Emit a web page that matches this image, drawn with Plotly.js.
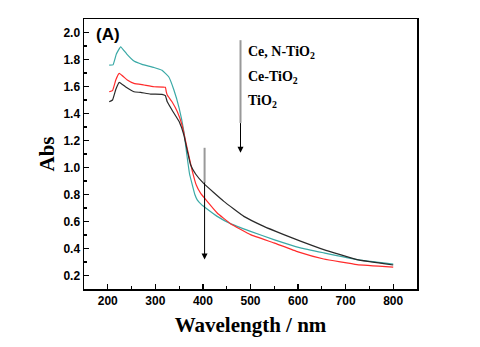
<!DOCTYPE html>
<html>
<head>
<meta charset="utf-8">
<script src="https://cdn.plot.ly/plotly-3.0.1.min.js"></script>
<style>
  html, body { margin: 0; padding: 0; background: #fff; }
  #plot { width: 480px; height: 347px; }
</style>
</head>
<body>
<div id="plot"></div>
<script>
// Absorbance
var wlCeN = [203, 211, 218, 227, 240, 255, 272, 297, 314, 328, 339, 350, 360, 366, 372, 377, 383, 388, 397, 406, 430, 458, 500, 549, 605, 654, 724, 800];
var absCeN = [1.758, 1.76, 1.84, 1.894, 1.84, 1.788, 1.764, 1.741, 1.72, 1.672, 1.574, 1.44, 1.266, 1.10, 0.95, 0.88, 0.80, 0.76, 0.725, 0.70, 0.638, 0.584, 0.527, 0.466, 0.405, 0.368, 0.318, 0.285];

var wlCe = [203, 210, 217, 224, 241, 255, 276, 297, 321, 323, 325, 335, 346, 356, 367, 377, 386, 395, 409, 430, 458, 500, 549, 600, 654, 724, 800];
var absCe = [1.561, 1.57, 1.65, 1.697, 1.648, 1.623, 1.611, 1.598, 1.594, 1.56, 1.537, 1.487, 1.414, 1.315, 1.14, 0.983, 0.87, 0.81, 0.749, 0.663, 0.584, 0.503, 0.442, 0.375, 0.322, 0.281, 0.262];

var wlTi = [203, 210, 217, 224, 237, 255, 269, 290, 314, 321, 325, 335, 350, 360, 368, 374, 385, 402, 444, 486, 528, 570, 605, 654, 724, 800];
var absTi = [1.487, 1.50, 1.58, 1.631, 1.598, 1.561, 1.556, 1.544, 1.542, 1.532, 1.487, 1.426, 1.34, 1.24, 1.11, 1.02, 0.95, 0.88, 0.749, 0.638, 0.564, 0.503, 0.455, 0.392, 0.318, 0.278];

var seriesNames = ["Ce, N-TiO<sub>2</sub>", "Ce-TiO<sub>2</sub>", "TiO<sub>2</sub>"];

var trace1 = {
  x: wlCeN, y: absCeN, mode: "lines", type: "scatter", name: seriesNames[0],
  line: { color: "#3aa9a6", width: 1.2, shape: "spline", smoothing: 0.3 }
};
var trace2 = {
  x: wlCe, y: absCe, mode: "lines", type: "scatter", name: seriesNames[1],
  line: { color: "#ff2b2b", width: 1.2, shape: "spline", smoothing: 0.3 }
};
var trace3 = {
  x: wlTi, y: absTi, mode: "lines", type: "scatter", name: seriesNames[2],
  line: { color: "#2a2a2a", width: 1.2, shape: "spline", smoothing: 0.3 }
};

var tickFont = { family: "Liberation Sans, Arial, sans-serif", size: 12, color: "#000", weight: "bold" };
var titleFont = { family: "Liberation Serif, Times New Roman, serif", size: 21, color: "#000", weight: "bold" };
var labelFont = { family: "Liberation Serif, Times New Roman, serif", size: 14, color: "#000", weight: "bold" };

var axisCommon = {
  showgrid: false, zeroline: false, showline: true, linecolor: "#000", linewidth: 1.5,
  mirror: true, ticks: "inside", ticklen: 5, tickwidth: 1.2, tickcolor: "#000",
  tickfont: tickFont
};

var layout = {
  width: 480, height: 347,
  margin: { l: 84, r: 63, t: 19, b: 58 },
  paper_bgcolor: "#fff", plot_bgcolor: "#fff",
  showlegend: false,
  xaxis: Object.assign({}, axisCommon, {
    range: [150, 850], tickvals: [200, 300, 400, 500, 600, 700, 800],
    minor: { ticks: "inside", dtick: 50, tick0: 0, ticklen: 3, tickcolor: "#000" },
    title: { text: "Wavelength / nm", font: titleFont, standoff: 10 }
  }),
  yaxis: Object.assign({}, axisCommon, {
    range: [0.1, 2.1], tickvals: [0.2, 0.4, 0.6, 0.8, 1.0, 1.2, 1.4, 1.6, 1.8, 2.0],
    ticktext: ["0.2", "0.4", "0.6", "0.8", "1.0", "1.2", "1.4", "1.6", "1.8", "2.0"],
    minor: { ticks: "inside", dtick: 0.1, tick0: 0, ticklen: 3, tickcolor: "#000" },
    title: { text: "Abs", font: titleFont, standoff: 3 }
  }),
  shapes: [
    { type: "line", xref: "x", yref: "y", x0: 479, x1: 479, y0: 1.943, y1: 1.33,
      line: { color: "#999", width: 2 } },
    { type: "line", xref: "x", yref: "y", x0: 403.5, x1: 403.5, y0: 1.146, y1: 0.887,
      line: { color: "#999", width: 2 } }
  ],
  annotations: [
    { text: "(A)", xref: "paper", yref: "paper", x: 0.03, y: 0.985, xanchor: "left", yanchor: "top",
      showarrow: false, font: { family: "Liberation Sans, Arial, sans-serif", size: 17, color: "#000", weight: "bold" } },
    { text: seriesNames[0], xref: "x", yref: "y", x: 491, y: 1.855, xanchor: "left", yanchor: "middle",
      showarrow: false, font: labelFont },
    { text: seriesNames[1], xref: "x", yref: "y", x: 491, y: 1.67, xanchor: "left", yanchor: "middle",
      showarrow: false, font: labelFont },
    { text: seriesNames[2], xref: "x", yref: "y", x: 491, y: 1.492, xanchor: "left", yanchor: "middle",
      showarrow: false, font: labelFont },
    { text: "", xref: "x", yref: "y", axref: "x", ayref: "y", x: 479, y: 1.109, ax: 479, ay: 1.34,
      showarrow: true, arrowhead: 2, arrowsize: 1.2, arrowwidth: 1, arrowcolor: "#000" },
    { text: "", xref: "x", yref: "y", axref: "x", ayref: "y", x: 403.5, y: 0.319, ax: 403.5, ay: 0.9,
      showarrow: true, arrowhead: 2, arrowsize: 1.2, arrowwidth: 1, arrowcolor: "#000" }
  ]
};

Plotly.newPlot("plot", [trace1, trace2, trace3], layout, { staticPlot: true, displayModeBar: false });
</script>
</body>
</html>
